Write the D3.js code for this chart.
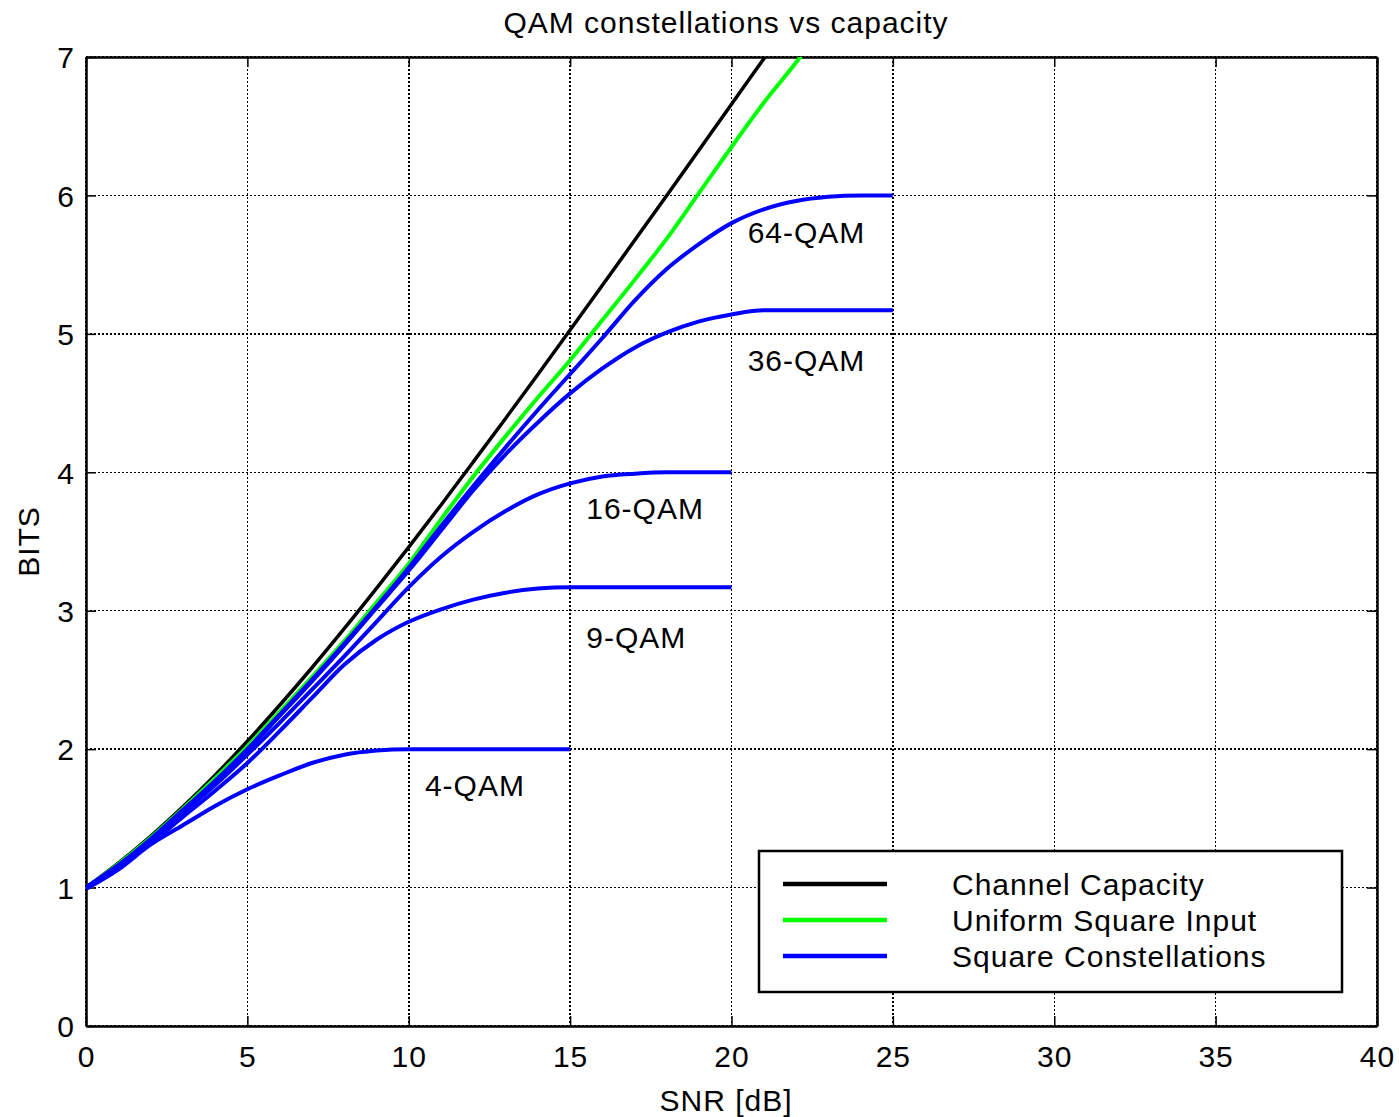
<!DOCTYPE html>
<html>
<head>
<meta charset="utf-8">
<script src="https://cdn.jsdelivr.net/npm/d3@7"></script>
<style>
  body { margin: 0; background: #fff; }
  svg text { font-family: "Liberation Sans", Arial, Helvetica, sans-serif; fill: #000; letter-spacing: 1px; }
</style>
</head>
<body>
<div id="chart"></div>
<script>
// SNR grid in dB (1 dB steps)
const snrDb = d3.range(0, 26)

// bits per symbol
const channelCapacity = [1.000, 1.176, 1.370, 1.583, 1.812, 2.057, 2.317, 2.588, 2.870, 3.161, 3.459, 3.764, 4.075, 4.389, 4.707, 5.028, 5.351, 5.676, 6.002, 6.330, 6.658, 6.988, 7.318]
const uniformSquare = [1.00, 1.17, 1.36, 1.57, 1.79, 2.02, 2.27, 2.52, 2.78, 3.06, 3.34, 3.66, 3.97, 4.26, 4.54, 4.81, 5.10, 5.39, 5.69, 6.02, 6.35, 6.67, 6.96, 7.27]
const qam64 = [1.00, 1.16, 1.35, 1.56, 1.77, 2.00, 2.25, 2.50, 2.76, 3.03, 3.31, 3.61, 3.90, 4.18, 4.45, 4.71, 4.97, 5.24, 5.47, 5.65, 5.80, 5.90, 5.96, 5.99, 6.00, 6.00]
const qam36 = [1.00, 1.16, 1.34, 1.55, 1.76, 1.99, 2.24, 2.49, 2.75, 3.02, 3.29, 3.58, 3.87, 4.13, 4.36, 4.57, 4.75, 4.90, 5.01, 5.09, 5.14, 5.17, 5.17, 5.17, 5.17, 5.17]
const qam16 = [1.00, 1.16, 1.34, 1.54, 1.74, 1.96, 2.19, 2.43, 2.67, 2.92, 3.17, 3.39, 3.57, 3.72, 3.84, 3.92, 3.97, 3.99, 4.00, 4.00, 4.00]
const qam9 = [1.00, 1.15, 1.32, 1.51, 1.70, 1.90, 2.13, 2.37, 2.61, 2.79, 2.92, 3.01, 3.08, 3.13, 3.16, 3.17, 3.17, 3.17, 3.17, 3.17, 3.17]
const qam4 = [0.99, 1.13, 1.31, 1.45, 1.59, 1.71, 1.81, 1.90, 1.96, 1.99, 2.00, 2.00, 2.00, 2.00, 2.00, 2.00]

// text labels next to the constellation curves
const qamLabels = ['64-QAM', '36-QAM', '16-QAM', '9-QAM', '4-QAM']
const qamLabelSnr = [20.5, 20.5, 15.5, 15.5, 10.5]
const qamLabelBits = [5.73, 4.81, 3.74, 2.81, 1.74]

const legendNames = ['Channel Capacity', 'Uniform Square Input', 'Square Constellations']

const xTicks = [0, 5, 10, 15, 20, 25, 30, 35, 40]
const yTicks = [0, 1, 2, 3, 4, 5, 6, 7]

const width = 1399
const height = 1117
const margin = { top: 57, right: 22, bottom: 91, left: 86 }
const plotW = width - margin.left - margin.right
const plotH = height - margin.top - margin.bottom
const fontSize = 30

const svg = d3.select('#chart').append('svg')
  .attr('width', width)
  .attr('height', height)

const x = d3.scaleLinear().domain([0, 40]).range([0, plotW])
const y = d3.scaleLinear().domain([0, 7]).range([plotH, 0])

const g = svg.append('g').attr('transform', `translate(${margin.left},${margin.top})`)

g.append('defs').append('clipPath').attr('id', 'plotClip')
  .append('rect').attr('width', plotW).attr('height', plotH)

// dotted grid
g.append('g')
  .attr('shape-rendering', 'crispEdges')
  .selectAll('line')
  .data(xTicks)
  .join('line')
  .attr('x1', d => x(d)).attr('x2', d => x(d))
  .attr('y1', 0).attr('y2', plotH)
  .attr('stroke', '#000').attr('stroke-width', 1.5).attr('stroke-dasharray', '2,2')
g.append('g')
  .attr('shape-rendering', 'crispEdges')
  .selectAll('line')
  .data(yTicks)
  .join('line')
  .attr('x1', 0).attr('x2', plotW)
  .attr('y1', d => y(d)).attr('y2', d => y(d))
  .attr('stroke', '#000').attr('stroke-width', 1.5).attr('stroke-dasharray', '2,2')

// axes, ticks inside, mirrored on top and right
const tickLen = 10
const xBottom = g.append('g').attr('transform', `translate(0,${plotH})`)
  .call(d3.axisBottom(x).tickValues(xTicks).tickSizeInner(-tickLen).tickSizeOuter(0).tickPadding(20).tickFormat(d3.format('d')))
const yLeft = g.append('g')
  .call(d3.axisLeft(y).tickValues(yTicks).tickSizeInner(-tickLen).tickSizeOuter(0).tickPadding(11).tickFormat(d3.format('d')))
const xTop = g.append('g')
  .call(d3.axisTop(x).tickValues(xTicks).tickSizeInner(-tickLen).tickSizeOuter(0).tickFormat(''))
const yRight = g.append('g').attr('transform', `translate(${plotW},0)`)
  .call(d3.axisRight(y).tickValues(yTicks).tickSizeInner(-tickLen).tickSizeOuter(0).tickFormat(''))

;[xBottom, yLeft, xTop, yRight].forEach(ax => {
  ax.select('.domain').attr('stroke', '#000').attr('stroke-width', 2.5)
  ax.selectAll('.tick line').attr('stroke', '#000').attr('stroke-width', 1.5)
  ax.selectAll('.tick text').attr('font-size', fontSize).attr('font-family', null)
})
xBottom.selectAll('.tick text').attr('dy', '0.71em')
yLeft.selectAll('.tick text').attr('dy', '0.36em')

// curves
const line = d3.line()
  .x((d, i) => x(snrDb[i]))
  .y(d => y(d))
  .curve(d3.curveMonotoneX)

const curves = g.append('g').attr('clip-path', 'url(#plotClip)')
curves.append('path').datum(channelCapacity)
  .attr('d', line).attr('fill', 'none').attr('stroke', '#000').attr('stroke-width', 3.5)
curves.append('path').datum(uniformSquare)
  .attr('d', line).attr('fill', 'none').attr('stroke', '#00ff00').attr('stroke-width', 4)
curves.selectAll('.qam')
  .data([qam64, qam36, qam16, qam9, qam4])
  .join('path')
  .attr('class', 'qam')
  .attr('d', line).attr('fill', 'none').attr('stroke', '#0000ff').attr('stroke-width', 4)

// curve labels
g.append('g')
  .selectAll('text')
  .data(qamLabels)
  .join('text')
  .attr('x', (d, i) => x(qamLabelSnr[i]))
  .attr('y', (d, i) => y(qamLabelBits[i]))
  .attr('dominant-baseline', 'central')
  .attr('font-size', fontSize)
  .text(d => d)

// title and axis labels
svg.append('text')
  .attr('x', 726).attr('y', 22)
  .attr('text-anchor', 'middle').attr('dominant-baseline', 'central')
  .attr('font-size', fontSize)
  .text('QAM constellations vs capacity')
svg.append('text')
  .attr('x', 726).attr('y', 1100)
  .attr('text-anchor', 'middle').attr('dominant-baseline', 'central')
  .attr('font-size', fontSize)
  .text('SNR [dB]')
svg.append('text')
  .attr('transform', `translate(28,${margin.top + plotH / 2}) rotate(-90)`)
  .attr('text-anchor', 'middle').attr('dominant-baseline', 'central')
  .attr('font-size', fontSize)
  .text('BITS')

// legend
const legend = svg.append('g').attr('transform', 'translate(759,851)')
legend.append('rect')
  .attr('width', 583).attr('height', 141)
  .attr('fill', '#fff').attr('stroke', '#000').attr('stroke-width', 2.5)
const legendColors = ['#000', '#00ff00', '#0000ff']
const legendRows = legend.selectAll('.row')
  .data(legendNames)
  .join('g')
  .attr('class', 'row')
  .attr('transform', (d, i) => `translate(0,${33 + i * 36})`)
legendRows.append('line')
  .attr('x1', 24).attr('x2', 128)
  .attr('stroke', (d, i) => legendColors[i]).attr('stroke-width', 4.5)
legendRows.append('text')
  .attr('x', 193)
  .attr('dominant-baseline', 'central')
  .attr('font-size', fontSize)
  .text(d => d)
</script>
</body>
</html>
